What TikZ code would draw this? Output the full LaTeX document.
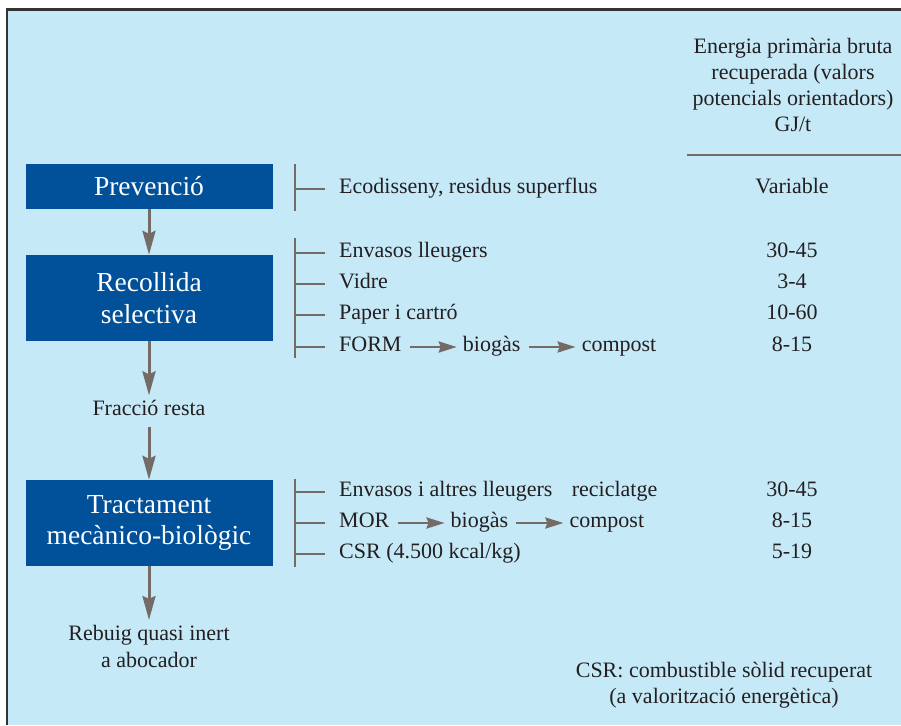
\documentclass[tikz,border=0pt]{standalone}
\usepackage{fontspec}
\setmainfont{Liberation Serif}
\usetikzlibrary{arrows.meta,positioning}
\definecolor{fonsblau}{HTML}{C6E9F8}
\definecolor{capsablau}{HTML}{00509A}
\definecolor{gris}{HTML}{746B66}
\definecolor{tinta}{HTML}{231F20}
\definecolor{marc}{HTML}{333333}
\begin{document}
\begin{tikzpicture}[x=1pt,y=-1pt]
  \tikzset{
    etapa/.style={fill=capsablau,text=white,minimum width=247pt,inner sep=0pt,align=center,font=\fontsize{27.5}{31.5}\selectfont},
    item/.style={anchor=west,inner sep=0pt,text=tinta,font=\fontsize{22}{26}\selectfont,text height=15.4pt,text depth=5.5pt},
    nota/.style={inner sep=0pt,text=tinta,align=center,font=\fontsize{22}{26}\selectfont},
    baixa/.style={draw=gris,line width=3pt,-{Stealth[length=24pt,width=13pt,inset=3pt]}},
    fletxa/.style={draw=gris,line width=2.6pt,-{Stealth[length=18pt,width=11pt,inset=2pt]},shorten <=8pt,shorten >=6pt},
    clau/.style={draw=gris,line width=2.6pt},
    pua/.style={draw=gris,line width=2.2pt}
  }
  \useasboundingbox (0,0) rectangle (901,725);
  \fill[fonsblau] (7,9) rectangle (901,725);
  \draw[marc,line width=2.5pt] (7.2,725) -- (7.2,9.3) -- (901,9.3);

  \coordinate (brk) at (295,0);
  \coordinate (val) at (792,0);

  \node[etapa,minimum height=45pt] (prev) at (149,186.5) {Prevenció};
  \node[etapa,minimum height=86pt] (recoll) at (149,298) {Recollida\\selectiva};
  \node[item,anchor=center,inner sep=5pt] (resta) at (149,411) {Fracció resta};
  \node[etapa,minimum height=86pt] (tmb) at (149,523) {Tractament\\mecànico-biològic};
  \node[nota,anchor=north,inner sep=5pt,font=\fontsize{22}{27}\selectfont] (rebuig) at (149,620) {Rebuig quasi inert\\a abocador};

  \draw[baixa] (prev) -- (recoll);
  \draw[baixa] (recoll) -- (resta);
  \draw[baixa] (resta) -- (tmb);
  \draw[baixa] (tmb) -- (rebuig);

  \node[nota,anchor=north] (capcal) at (793,38) {Energia primària bruta\\recuperada (valors\\potencials orientadors)\\GJ/t};
  \draw[clau] (687,155) -- (901,155);

  \node[item] (eco) at (339,189) {Ecodisseny, residus superflus};
  \node[item] (env) at (339,253) {Envasos lleugers};
  \node[item] (vid) at (339,284) {Vidre};
  \node[item] (pap) at (339,315) {Paper i cartró};
  \node[item] (form) at (339,347) {FORM};
  \node[item,right=61pt of form] (biog1) {biogàs};
  \node[item,right=61pt of biog1] (comp1) {compost};
  \node[item] (envalt) at (339,492) {Envasos i altres lleugers};
  \node[item,right=19pt of envalt] (recic) {reciclatge};
  \node[item] (mor) at (339,523) {MOR};
  \node[item,right=61pt of mor] (biog2) {biogàs};
  \node[item,right=61pt of biog2] (comp2) {compost};
  \node[item] (csr) at (339,554) {CSR (4.500 kcal/kg)};

  \draw[fletxa] (form) -- (biog1);
  \draw[fletxa] (biog1) -- (comp1);
  \draw[fletxa] (mor) -- (biog2);
  \draw[fletxa] (biog2) -- (comp2);

  \draw[clau] (brk |- 0,164) -- (brk |- 0,211);
  \draw[clau] (brk |- 0,238) -- (brk |- 0,358);
  \draw[clau] (brk |- 0,479) -- (brk |- 0,567);
  \foreach \n in {eco,env,vid,pap,form,envalt,mor,csr}
    \draw[pua] (\n.west -| brk) -- ([xshift=-14pt]\n.west);

  \node[item,anchor=center] at (eco -| val) {Variable};
  \node[item,anchor=center] at (env -| val) {30-45};
  \node[item,anchor=center] at (vid -| val) {3-4};
  \node[item,anchor=center] at (pap -| val) {10-60};
  \node[item,anchor=center] at (form -| val) {8-15};
  \node[item,anchor=center] at (envalt -| val) {30-45};
  \node[item,anchor=center] at (mor -| val) {8-15};
  \node[item,anchor=center] at (csr -| val) {5-19};

  \node[nota,anchor=north] (peu) at (724,662) {CSR: combustible sòlid recuperat\\(a valorització energètica)};
\end{tikzpicture}
\end{document}
